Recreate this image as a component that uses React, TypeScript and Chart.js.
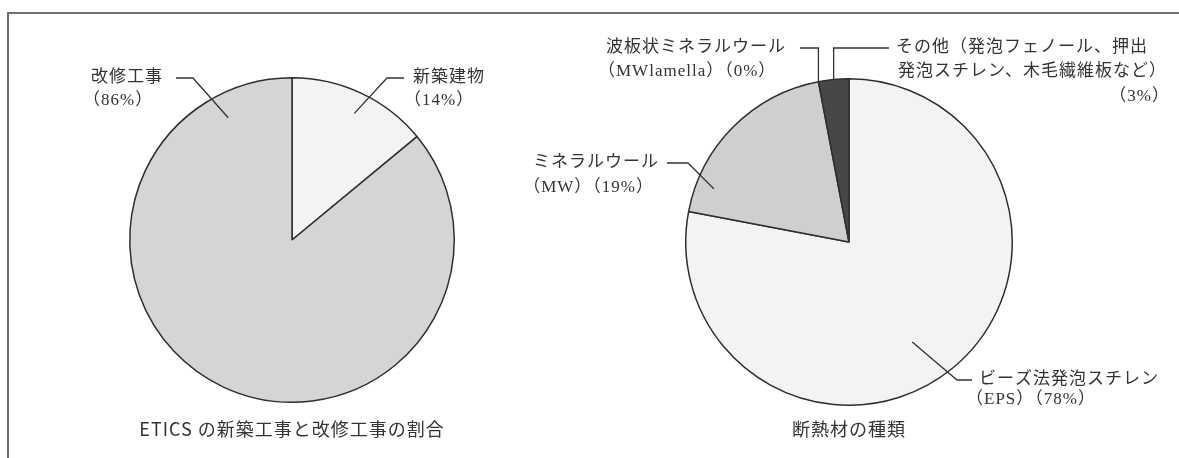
import React, { useEffect, useRef } from 'react';
import { Chart, registerables } from 'chart.js';

Chart.register(...registerables);

// ---------- data ----------
const leftCategories = ['新築建物', '改修工事'];
const leftValues = [14, 86];
const leftNameLines = [['新築建物', ''], ['改修工事', '']];
const leftTitle = 'ETICS の新築工事と改修工事の割合';

const rightCategories = [
  'ビーズ法発泡スチレン（EPS）',
  'ミネラルウール（MW）',
  '波板状ミネラルウール（MWlamella）',
  'その他（発泡フェノール、押出発泡スチレン、木毛繊維板など）',
];
const rightValues = [78, 19, 0, 3];
const rightNameLines = [
  ['ビーズ法発泡スチレン', '（EPS）'],
  ['ミネラルウール', '（MW）'],
  ['波板状ミネラルウール', '（MWlamella）'],
  ['その他（発泡フェノール、押出', '発泡スチレン、木毛繊維板など）', ''],
];
const rightTitle = '断熱材の種類';

// ---------- styles / layout ----------
const leftColors = ['#f3f3f3', '#d5d5d5'];
const rightColors = ['#f3f3f3', '#cfcfcf', '#bdbdbd', '#474747'];

type Lay = {
  t: number;
  rf: number;
  path: [number | null, number][];
  tx: number[];
  ty: number[];
  align: CanvasTextAlign[];
};

const leftLayout: Lay[] = [
  { t: 0.52, rf: 0.87, path: [[95, -162], [112, -162]], tx: [121, 112], ty: [-162, -139], align: ['left', 'left'] },
  { t: 0.911, rf: 0.85, path: [[-99, -162], [-116, -162]], tx: [-201, -209], ty: [-162, -139], align: ['left', 'left'] },
];

const rightLayout: Lay[] = [
  { t: 0.526, rf: 0.725, path: [[108, 138], [123, 138]], tx: [130, 117], ty: [138, 158], align: ['left', 'left'] },
  { t: 0.156, rf: 0.89, path: [[-161, -79], [-182, -79]], tx: [-190, -195], ty: [-79, -54], align: ['right', 'right'] },
  { t: 0, rf: 1.0, path: [[null, -194], [-49, -194]], tx: [-243, -251], ty: [-194, -170], align: ['left', 'left'] },
  { t: 0.5, rf: 1.0, path: [[null, -194], [40, -194]], tx: [47, 49, 321], ty: [-194, -170, -145], align: ['left', 'left', 'right'] },
];

const LABEL_FONT = "normal 17px 'Liberation Serif', 'Noto Sans CJK JP'";
const TITLE_FONT = "normal 18px 'Noto Sans CJK JP', 'Noto Sans'";
const INK = '#333333';

function makeLabelPlugin(nameLines: string[][], values: number[], layout: Lay[], title: string, titleDy: number) {
  return {
    id: 'leaderLabels',
    afterDatasetsDraw(chart: any) {
      const ctx: CanvasRenderingContext2D = chart.ctx;
      const meta = chart.getDatasetMeta(0);
      let cx = 0;
      let cy = 0;
      meta.data.forEach((arc: any, i: number) => {
        const lay = layout[i];
        const { x, y, startAngle, endAngle, outerRadius } = arc;
        cx = x;
        cy = y;
        const a = startAngle + lay.t * (endAngle - startAngle);
        let px = x + Math.cos(a) * outerRadius * lay.rf;
        let py = y + Math.sin(a) * outerRadius * lay.rf;
        ctx.save();
        ctx.strokeStyle = INK;
        ctx.lineWidth = 1.3;
        ctx.beginPath();
        ctx.moveTo(px, py);
        lay.path.forEach(([dx, dy]) => {
          px = dx === null ? px : x + dx;
          py = y + dy;
          ctx.lineTo(px, py);
        });
        ctx.stroke();
        const lines = nameLines[i].slice();
        lines[lines.length - 1] += `（${values[i]}%）`;
        ctx.font = LABEL_FONT;
        (ctx as any).letterSpacing = '1px';
        ctx.fillStyle = INK;
        ctx.textBaseline = 'middle';
        lines.forEach((s, k) => {
          ctx.textAlign = lay.align[k];
          ctx.fillText(s, x + lay.tx[k], y + lay.ty[k]);
        });
        ctx.restore();
      });
      ctx.save();
      ctx.font = TITLE_FONT;
      (ctx as any).letterSpacing = '1px';
      ctx.fillStyle = INK;
      ctx.textAlign = 'center';
      ctx.textBaseline = 'middle';
      ctx.fillText(title, cx, cy + titleDy);
      ctx.restore();
    },
  };
}

function PieCanvas(props: {
  labels: string[];
  values: number[];
  colors: string[];
  nameLines: string[][];
  layout: Lay[];
  title: string;
  titleDy: number;
  padding: { left: number; right: number; top: number; bottom: number };
}) {
  const ref = useRef<HTMLCanvasElement>(null);
  useEffect(() => {
    if (!ref.current) return;
    const chart = new Chart(ref.current, {
      type: 'pie',
      data: {
        labels: props.labels,
        datasets: [
          {
            data: props.values,
            backgroundColor: props.colors,
            borderColor: '#2e2e2e',
            borderWidth: 1.5,
          },
        ],
      },
      options: {
        responsive: false,
        animation: false,
        devicePixelRatio: 1,
        layout: { padding: props.padding },
        plugins: {
          legend: { display: false },
          tooltip: { enabled: false },
          title: { display: false },
        },
      },
      plugins: [makeLabelPlugin(props.nameLines, props.values, props.layout, props.title, props.titleDy)],
    } as any);
    return () => chart.destroy();
  }, []);
  return (
    <canvas
      ref={ref}
      width={1179}
      height={458}
      style={{ position: 'absolute', left: 0, top: 0, width: 1179, height: 458 }}
    />
  );
}

export default function App() {
  return (
    <div
      style={{
        position: 'fixed',
        left: 0,
        top: 0,
        width: 1179,
        height: 458,
        overflow: 'hidden',
        background: '#ffffff',
      }}
    >
      <div
        style={{
          position: 'absolute',
          left: 7,
          top: 12,
          width: 1300,
          height: 600,
          border: '2px solid #6f6f6f',
          boxSizing: 'border-box',
        }}
      />
      <PieCanvas
        labels={leftCategories}
        values={leftValues}
        colors={leftColors}
        nameLines={leftNameLines}
        layout={leftLayout}
        title={leftTitle}
        titleDy={189}
        padding={{ left: 129, right: 724, top: 77, bottom: 55 }}
      />
      <PieCanvas
        labels={rightCategories}
        values={rightValues}
        colors={rightColors}
        nameLines={rightNameLines}
        layout={rightLayout}
        title={rightTitle}
        titleDy={187}
        padding={{ left: 685, right: 166, top: 78, bottom: 52 }}
      />
    </div>
  );
}
